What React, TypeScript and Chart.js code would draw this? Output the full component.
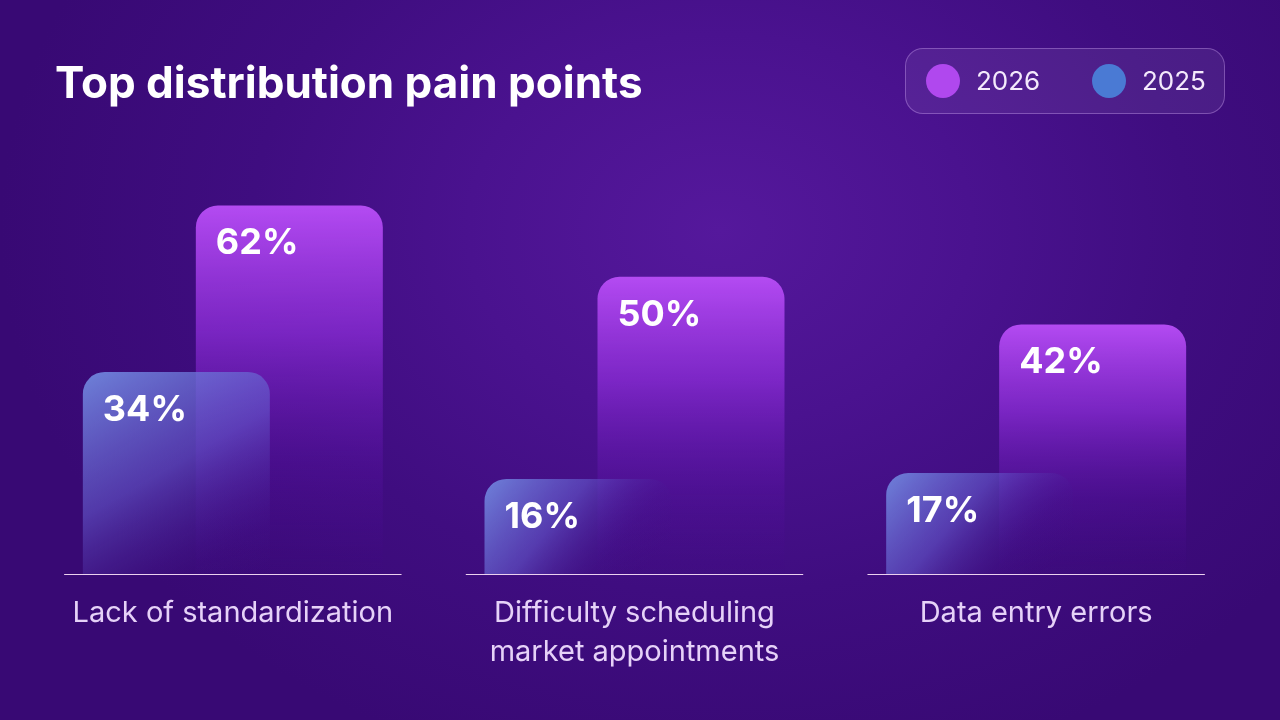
import React, { useEffect, useRef } from "react";
import { Chart, registerables } from "chart.js";

Chart.register(...registerables);

const categories: string[][] = [
  ["Lack of standardization"],
  ["Difficulty scheduling", "market appointments"],
  ["Data entry errors"],
];
const seriesNames = ["2025", "2026"];
const values2025 = [34, 16, 17];
const values2026 = [62, 50, 42];
const title = "Top distribution pain points";

const FONT = "Inter, 'Noto Sans', sans-serif";

const labelPlugin = {
  id: "valueLabels",
  afterDatasetsDraw(chart: any) {
    const ctx = chart.ctx;
    ctx.save();
    ctx.fillStyle = "#ffffff";
    ctx.font = `700 36px ${FONT}`;
    ctx.textBaseline = "top";
    ctx.textAlign = "left";
    chart.data.datasets.forEach((ds: any, di: number) => {
      const meta = chart.getDatasetMeta(di);
      meta.data.forEach((el: any, i: number) => {
        const left = el.x - el.width / 2;
        ctx.fillText(`${ds.data[i]}%`, left + 20, el.y + 20);
      });
    });
    ctx.restore();
  },
};

const baselinePlugin = {
  id: "baselines",
  afterDatasetsDraw(chart: any) {
    const ctx = chart.ctx;
    const x = chart.scales.x;
    const bottom = chart.chartArea.bottom;
    const step = x.getPixelForValue(1) - x.getPixelForValue(0);
    const half = (step * 0.84) / 2;
    ctx.save();
    ctx.strokeStyle = "rgba(245,220,245,0.95)";
    ctx.lineWidth = 1.2;
    categories.forEach((_, i) => {
      const cx = x.getPixelForValue(i);
      ctx.beginPath();
      ctx.moveTo(cx - half, bottom + 0.5);
      ctx.lineTo(cx + half, bottom + 0.5);
      ctx.stroke();
    });
    ctx.restore();
  },
};

function gradient2026(context: any) {
  const chart = context.chart;
  const { ctx, chartArea } = chart;
  if (!chartArea) return "#a040e0";
  const v = context.raw as number;
  const top = chart.scales.y.getPixelForValue(v);
  const g = ctx.createLinearGradient(0, top, 0, chartArea.bottom);
  g.addColorStop(0, "rgba(180,75,242,1)");
  g.addColorStop(0.35, "rgba(140,45,215,0.75)");
  g.addColorStop(0.7, "rgba(95,20,170,0.35)");
  g.addColorStop(1, "rgba(70,10,140,0.05)");
  return g;
}

function gradient2025(context: any) {
  const chart = context.chart;
  const { ctx, chartArea } = chart;
  if (!chartArea) return "#6a72c8";
  const v = context.raw as number;
  const top = chart.scales.y.getPixelForValue(v);
  const bottom = chartArea.bottom;
  const x = chart.scales.x;
  const cx = x.getPixelForValue(context.dataIndex);
  const step = x.getPixelForValue(1) - x.getPixelForValue(0);
  const w = step * 0.466;
  const left = cx - step * 0.14 - w / 2;
  const g = ctx.createLinearGradient(left, top, left + w * 0.75, bottom + (bottom - top) * 0.2);
  g.addColorStop(0, "rgba(115,140,225,0.92)");
  g.addColorStop(0.45, "rgba(100,90,205,0.6)");
  g.addColorStop(0.8, "rgba(70,30,150,0.15)");
  g.addColorStop(1, "rgba(60,15,130,0)");
  return g;
}

export default function App() {
  const ref = useRef<HTMLCanvasElement | null>(null);

  useEffect(() => {
    document.body.style.margin = "0";
    const canvas = ref.current!;
    const chart = new Chart(canvas, {
      type: "bar",
      data: {
        labels: categories,
        datasets: [
          {
            label: seriesNames[0],
            data: values2025,
            backgroundColor: gradient2025,
            borderRadius: 22,
            borderSkipped: "bottom",
          },
          {
            label: seriesNames[1],
            data: values2026,
            backgroundColor: gradient2026,
            borderRadius: 22,
            borderSkipped: "bottom",
          },
        ],
      },
      options: {
        responsive: false,
        animation: false,
        events: [],
        layout: { padding: { left: 32, right: 43, top: 158, bottom: 37 } },
        datasets: {
          bar: { categoryPercentage: 0.5626, barPercentage: 1.655 },
        },
        plugins: {
          legend: { display: false },
          tooltip: { enabled: false },
          title: { display: false },
        },
        scales: {
          x: {
            grid: { display: false },
            border: { display: false },
            ticks: {
              color: "#e6d2f8",
              padding: 11.5,
              font: { family: FONT, size: 29, lineHeight: 39 / 29 },
            },
          },
          y: {
            display: false,
            min: 0,
            max: 70,
          },
        },
      },
      plugins: [baselinePlugin, labelPlugin],
    });
    return () => chart.destroy();
  }, []);

  return (
    <div
      style={{
        position: "fixed",
        left: 0,
        top: 0,
        width: 1280,
        height: 720,
        overflow: "hidden",
        background:
          "radial-gradient(ellipse 720px 560px at 720px 230px, #55189c 0%, #4a128f 35%, #3f0d80 65%, #380974 100%)",
        fontFamily: FONT,
      }}
    >
      <canvas ref={ref} width={1280} height={720} style={{ position: "absolute", left: 0, top: 0 }} />
      <div
        style={{
          position: "absolute",
          left: 55,
          top: 55,
          color: "#ffffff",
          fontWeight: 700,
          fontSize: 44,
          letterSpacing: 0,
          lineHeight: "54px",
          whiteSpace: "nowrap",
        }}
      >
        {title}
      </div>
      <div
        style={{
          position: "absolute",
          left: 905,
          top: 48,
          width: 320,
          height: 66,
          boxSizing: "border-box",
          borderRadius: 18,
          border: "1px solid rgba(220,180,255,0.35)",
          background: "rgba(255,255,255,0.07)",
          color: "#f4eafc",
          fontSize: 26,
        }}
      >
        <span style={{ position: "absolute", left: 20, top: 15, width: 34, height: 34, borderRadius: 17, background: "#b048ee" }} />
        <span style={{ position: "absolute", left: 70, top: 15, lineHeight: "34px" }}>{seriesNames[1]}</span>
        <span style={{ position: "absolute", left: 186, top: 15, width: 34, height: 34, borderRadius: 17, background: "#4a7ad4" }} />
        <span style={{ position: "absolute", left: 236, top: 15, lineHeight: "34px" }}>{seriesNames[0]}</span>
      </div>
    </div>
  );
}
